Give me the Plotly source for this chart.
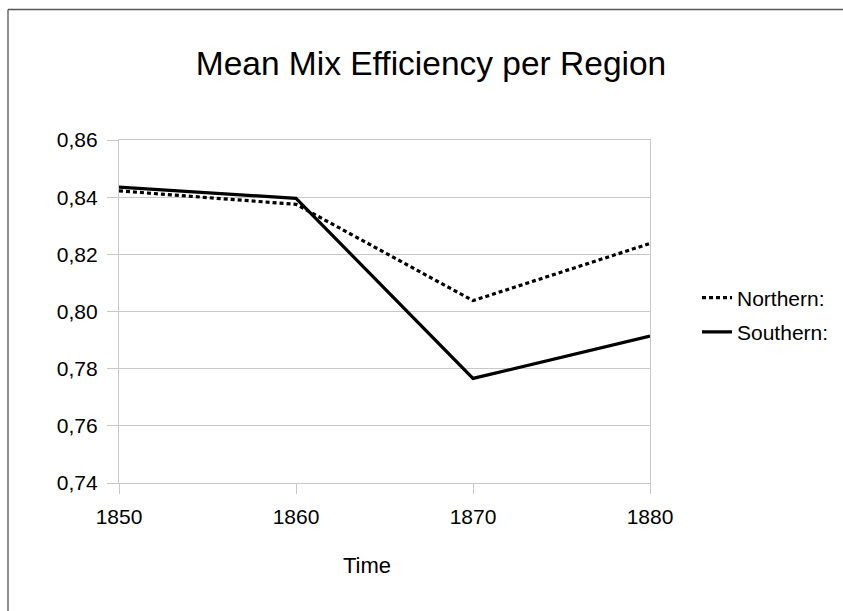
import plotly.graph_objects as go

# Census years and mean mix efficiency for each region
years = [1850, 1860, 1870, 1880]
northern = [0.8422, 0.8375, 0.8038, 0.8238]
southern = [0.8435, 0.8396, 0.7766, 0.7914]
y_ticks = [0.74, 0.76, 0.78, 0.80, 0.82, 0.84, 0.86]
y_tick_text = ["0,74", "0,76", "0,78", "0,80", "0,82", "0,84", "0,86"]

W, H = 843, 611
ML, MR, MT, MB = 119, 193, 140, 128
PW, PH = W - ML - MR, H - MT - MB

FONT = "Liberation Sans, Arial, sans-serif"
GRID = "#c8c8c8"
FRAME = "#555555"

fig = go.Figure()
fig.add_trace(go.Scatter(
    x=years, y=northern, name="Northern:", mode="lines", legendgroup="n",
    line=dict(color="black", width=3.2, dash="4px,3px"),
))
fig.add_trace(go.Scatter(
    x=years, y=southern, name="Southern:", mode="lines", legendgroup="s",
    line=dict(color="black", width=3.2),
))


# helpers to place decorations in page pixels
def px_x(p):
    return (p - ML) / PW


def px_y(p):
    return (H - MB - p) / PH


# outer chart frame: top and left edges (the others run off the page)
fig.add_shape(
    type="line", xref="paper", yref="paper", layer="below",
    x0=px_x(8), x1=px_x(W + 60), y0=px_y(9.5), y1=px_y(9.5),
    line=dict(color=FRAME, width=1.3),
)
fig.add_shape(
    type="line", xref="paper", yref="paper", layer="below",
    x0=px_x(8), x1=px_x(8), y0=px_y(9.5), y1=px_y(H + 60),
    line=dict(color=FRAME, width=1.3),
)

# x-axis title
fig.add_annotation(
    text="Time", xref="paper", yref="paper", showarrow=False,
    x=px_x(367), y=px_y(565), xanchor="center", yanchor="middle",
    font=dict(family=FONT, size=22, color="black"),
)

fig.update_layout(
    width=W, height=H,
    margin=dict(l=ML, r=MR, t=MT, b=MB, autoexpand=False),
    paper_bgcolor="white", plot_bgcolor="white",
    font=dict(family=FONT, color="black", size=21),
    title=dict(
        text="Mean Mix Efficiency per Region",
        font=dict(family=FONT, size=33.5, color="black"),
        xref="container", yref="container",
        x=431 / W, xanchor="center", y=1 - 63 / H, yanchor="middle",
    ),
    showlegend=True,
    legend=dict(
        x=px_x(697), xanchor="left", y=px_y(315), yanchor="middle",
        font=dict(family=FONT, size=21, color="black"),
        bgcolor="rgba(0,0,0,0)", itemwidth=30, tracegroupgap=4,
    ),
    xaxis=dict(
        range=[1850, 1880], tickvals=years, ticktext=[str(y) for y in years],
        showgrid=False, zeroline=False,
        showline=True, linecolor=GRID, linewidth=1.3, mirror=True,
        ticks="outside", ticklen=10, tickcolor=GRID, tickwidth=1.3,
        tickfont=dict(size=21), ticklabelstandoff=5,
    ),
    yaxis=dict(
        range=[0.74, 0.86], tickvals=y_ticks, ticktext=y_tick_text,
        showgrid=True, gridcolor=GRID, gridwidth=1.3, zeroline=False,
        showline=True, linecolor=GRID, linewidth=1.3, mirror=True,
        ticks="outside", ticklen=11, tickcolor=GRID, tickwidth=1.3,
        tickfont=dict(size=21), ticklabelstandoff=5,
    ),
)

fig.write_html("out.html", config={"displayModeBar": False})
